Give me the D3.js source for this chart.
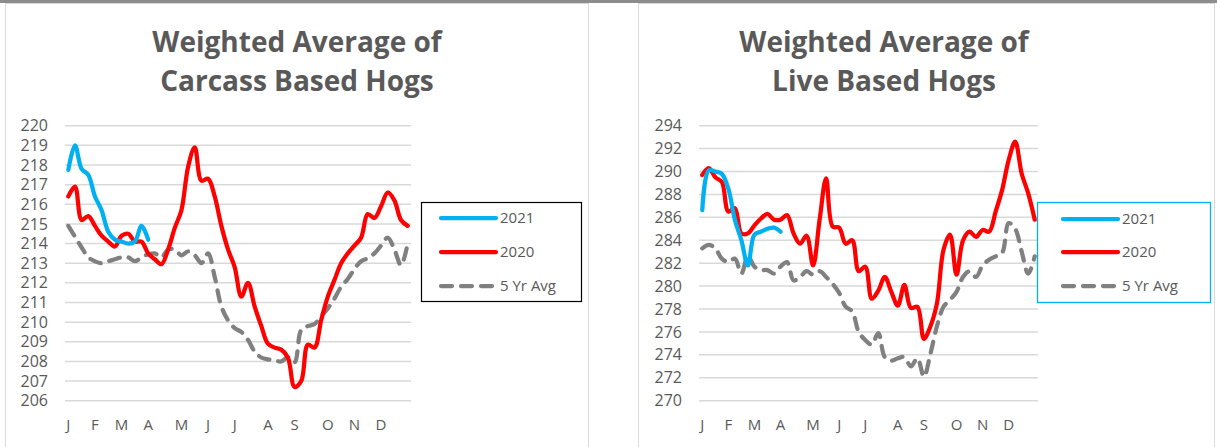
<!DOCTYPE html>
<html>
<head>
<meta charset="utf-8">
<script src="https://cdn.jsdelivr.net/npm/d3@7"></script>
<style>
    body { margin: 0; background: #fff; }
    svg text { font-family: "Open Sans", sans-serif; fill: #595959; }
</style>
</head>
<body>
<div id="chart"></div>
<script>
// weekly categories, month letter on the first week of each month
let weeks = d3.range(1, 53);
let monthStartWeeks = [1, 5, 9, 13, 18, 22, 26, 31, 35, 40, 44, 48];
let monthLetters = ["J", "F", "M", "A", "M", "J", "J", "A", "S", "O", "N", "D"];

let seriesNames = ["2021", "2020", "5 Yr Avg"];

// carcass based hogs
let carcassTicks = d3.range(206, 221, 1);
let carcass2021 = [217.75, 219.0, 217.8, 217.5, 216.4, 215.7, 214.6, 214.2, 214.1, 214.0, 214.1, 214.9, 214.2];
let carcass2020 = [216.4, 216.9, 215.2, 215.4, 214.9, 214.4, 214.1, 213.85, 214.4, 214.5, 214.1, 214.1, 213.5,
    213.2, 212.95, 213.7, 214.8, 215.7, 217.9, 218.9, 217.2, 217.3, 216.4, 214.9, 213.7, 212.8, 211.3,
    212.0, 210.8, 209.8, 208.9, 208.7, 208.6, 208.2, 206.7, 207.0, 208.85, 208.7, 210.1, 211.3, 212.15,
    213.0, 213.5, 213.9, 214.3, 215.5, 215.3, 215.9, 216.6, 216.2, 215.2, 214.9];
let carcass5yr = [214.9, 214.35, 213.8, 213.3, 213.1, 213.0, 213.1, 213.2, 213.3, 213.3, 213.1, 213.3, 213.45,
    213.5, 213.3, 213.7, 213.7, 213.4, 213.6, 213.4, 213.0, 213.5, 212.3, 210.8, 210.1, 209.7, 209.5,
    209.1, 208.5, 208.2, 208.1, 208.05, 208.0, 208.2, 207.95, 209.6, 209.8, 209.9, 210.3, 210.7, 211.2,
    211.8, 212.2, 212.7, 213.1, 213.25, 213.5, 213.9, 214.3, 213.7, 212.9, 214.0];

// live based hogs
let liveTicks = d3.range(270, 295, 2);
let live2021 = [286.64, 290.1, 290.0, 289.8, 288.5, 285.8, 284.0, 281.8, 284.5, 284.75, 285.0, 285.1, 284.75];
let live2020 = [289.7, 290.3, 289.5, 289.1, 286.5, 286.8, 284.6, 284.6, 285.3, 285.9, 286.3, 285.8, 285.8,
    286.2, 284.6, 283.7, 284.4, 281.8, 285.8, 289.4, 285.2, 285.1, 283.7, 284.0, 281.3, 281.7, 278.9,
    279.6, 280.8, 279.5, 278.3, 280.1, 278.1, 278.2, 275.4, 276.5, 278.5, 283.15, 284.5, 281.0, 284.0,
    284.75, 284.3, 284.9, 284.75, 286.5, 288.4, 291.0, 292.6, 289.8, 288.1, 285.8];
let live5yr = [283.3, 283.6, 283.3, 282.4, 282.1, 282.4, 281.1, 282.6, 281.7, 281.4, 281.4, 281.1, 281.7,
    282.1, 280.5, 280.8, 281.3, 281.0, 281.3, 280.8, 280.2, 279.4, 278.2, 277.8, 276.0, 275.3, 274.9,
    275.9, 273.8, 273.5, 273.7, 273.8, 273.0, 273.7, 272.1, 274.1, 276.5, 278.2, 278.8, 279.5, 280.8,
    281.3, 280.8, 281.8, 282.3, 282.6, 282.9, 285.5, 285.0, 283.0, 281.1, 282.6];

let colors = ["#00B0F0", "#FF0000", "#808080"];

let svg = d3.select("#chart")
    .append("svg")
        .attr("width", 1217)
        .attr("height", 447);

// top strip and the two panel frames
svg.append("rect")
    .attr("x", 0).attr("y", 0).attr("width", 1217).attr("height", 3)
    .attr("fill", "#8c8c8c");

function drawPanel(opts) {
    svg.append("rect")
        .attr("x", opts.frame[0] + 0.5).attr("y", 3.5)
        .attr("width", opts.frame[1] - opts.frame[0]).attr("height", 460)
        .attr("fill", "none")
        .attr("stroke", "#d9d9d9");

    let title = svg.append("text")
        .attr("text-anchor", "middle")
        .style("font-size", "28px")
        .style("font-weight", "bold");
    opts.title.forEach(function (line, i) {
        title.append("tspan")
            .attr("x", opts.titleX)
            .attr("y", 52 + i * 39)
            .text(line);
    });

    let x = d3.scaleBand()
        .domain(weeks)
        .range(opts.xRange);

    let y = d3.scaleLinear()
        .domain([opts.ticks[0], opts.ticks[opts.ticks.length - 1]])
        .range([400.7, 125.7]);

    // gridlines
    svg.append("g")
        .selectAll("line")
        .data(opts.ticks)
        .enter()
        .append("line")
            .attr("x1", opts.xRange[0])
            .attr("x2", opts.xRange[1])
            .attr("y1", d => y(d))
            .attr("y2", d => y(d))
            .attr("stroke", "#d9d9d9")
            .attr("stroke-width", 1.5);

    svg.append("g")
        .attr("transform", "translate(" + opts.yLabelX + ",0)")
        .call(d3.axisLeft(y).tickValues(opts.ticks).tickSize(0).tickPadding(0))
        .call(g => g.select(".domain").remove())
        .selectAll("text")
            .style("font-size", "16px")
            .style("font-family", "'Open Sans', sans-serif")
            .attr("fill", "#595959");

    svg.append("g")
        .attr("transform", "translate(0,416)")
        .call(d3.axisBottom(x)
            .tickValues(monthStartWeeks)
            .tickFormat((d, i) => monthLetters[i])
            .tickSize(0))
        .call(g => g.select(".domain").remove())
        .selectAll("text")
            .style("font-size", "15px")
            .style("font-family", "'Open Sans', sans-serif")
            .attr("fill", "#595959");

    let line = d3.line()
        .x((d, i) => x(weeks[i]) + x.bandwidth() / 2)
        .y(d => y(d))
        .curve(d3.curveCatmullRom.alpha(0.5));

    // draw 5yr first so the years sit on top
    [2, 1, 0].forEach(function (k) {
        let path = svg.append("path")
            .datum(opts.series[k])
            .attr("d", line)
            .attr("fill", "none")
            .attr("stroke", colors[k])
            .attr("stroke-width", 4.25)
            .attr("stroke-linecap", "round")
            .attr("stroke-linejoin", "round");
        if (k === 2) path.attr("stroke-dasharray", "11,9");
    });

    // legend
    let lg = opts.legend;
    svg.append("rect")
        .attr("x", lg.box[0] + 0.5).attr("y", lg.box[1] + 0.5)
        .attr("width", lg.box[2]).attr("height", lg.box[3])
        .attr("fill", "#fff")
        .attr("stroke", lg.stroke)
        .attr("stroke-width", lg.strokeWidth);

    seriesNames.forEach(function (name, k) {
        let ry = lg.rows[k];
        let l = svg.append("line")
            .attr("x1", lg.lineX[0]).attr("x2", lg.lineX[1])
            .attr("y1", ry).attr("y2", ry)
            .attr("stroke", colors[k])
            .attr("stroke-width", 4.25)
            .attr("stroke-linecap", "round");
        if (k === 2) l.attr("stroke-dasharray", "11,9");
        svg.append("text")
            .attr("x", lg.lineX[1] + 4)
            .attr("y", ry)
            .attr("dy", "0.35em")
            .style("font-size", "15px")
            .text(name);
    });
}

drawPanel({
    frame: [5, 588],
    title: ["Weighted Average of", "Carcass Based Hogs"],
    titleX: 297,
    xRange: [65, 411],
    yLabelX: 48,
    ticks: carcassTicks,
    series: [carcass2021, carcass2020, carcass5yr],
    legend: {
        box: [421, 202, 160, 99], stroke: "#000", strokeWidth: 1.2,
        lineX: [441, 496], rows: [218, 252, 286]
    }
});

drawPanel({
    frame: [638, 1214],
    title: ["Weighted Average of", "Live Based Hogs"],
    titleX: 884,
    xRange: [699, 1038],
    yLabelX: 682,
    ticks: liveTicks,
    series: [live2021, live2020, live5yr],
    legend: {
        box: [1037, 202, 173, 100], stroke: "#00B0F0", strokeWidth: 1.3,
        lineX: [1063, 1118], rows: [219, 252, 286]
    }
});
</script>
</body>
</html>
